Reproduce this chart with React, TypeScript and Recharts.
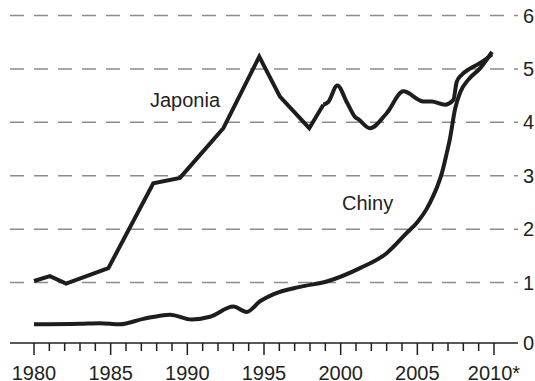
import { LineChart, Line, XAxis, YAxis, CartesianGrid } from "recharts";

// Japonia: straight section up to 1999, smoother wiggles after that
const japanEarlyYears = [1980, 1981.04, 1982.09, 1984.85, 1987.78, 1989.52, 1990.83, 1992.35, 1994.69, 1996.04, 1997.95, 1998.87];
const japanEarlyValues = [1.03, 1.12, 0.98, 1.27, 2.86, 2.96, 3.39, 3.89, 5.23, 4.48, 3.89, 4.33];

const japanLateYears = [1998.87, 1999.19, 1999.78, 2000.43, 2000.94, 2001.15, 2001.91, 2003.0, 2004.09, 2005.39, 2005.94, 2006.8, 2007.35, 2007.57, 2007.9, 2008.4, 2009.09, 2009.87];
const japanLateValues = [4.33, 4.38, 4.69, 4.36, 4.1, 4.06, 3.89, 4.17, 4.58, 4.39, 4.39, 4.33, 4.42, 4.76, 4.89, 5.0, 5.11, 5.27];

const chinaYears = [1980, 1983.0, 1984.3, 1985.6, 1987.13, 1988.87, 1990.28, 1991.48, 1993.0, 1993.87, 1994.74, 1995.6, 1997.35, 1999.09, 2001.26, 2003.0, 2004.31, 2005.0, 2005.61, 2006.0, 2006.3, 2006.6, 2006.9, 2007.13, 2007.46, 2007.79, 2008.33, 2009.09, 2009.87];
const chinaValues = [0.22, 0.23, 0.24, 0.22, 0.32, 0.4, 0.31, 0.36, 0.55, 0.45, 0.65, 0.78, 0.92, 1.02, 1.27, 1.55, 1.93, 2.13, 2.38, 2.6, 2.8, 3.05, 3.4, 3.7, 4.25, 4.56, 4.8, 5.01, 5.32];

const yearTicks = Array.from({ length: 31 }, (_, i) => 1980 + i);
const valueTicks = [0, 1, 2, 3, 4, 5, 6];
const gridValues = [1, 2, 3, 4, 5, 6];

const toPoints = (xs: number[], ys: number[]) => xs.map((year, i) => ({ year, value: ys[i] }));

const japanEarly = toPoints(japanEarlyYears, japanEarlyValues);
const japanLate = toPoints(japanLateYears, japanLateValues);
const china = toPoints(chinaYears, chinaValues);

const FONT = "'Liberation Sans', Arial, Helvetica, sans-serif";
const INK = "#231f20";
const LINE = "#1d1d1b";

const YearTick = ({ x, y, payload }: any) => {
    const yr = payload.value;
    const major = yr % 5 === 0;
    return (
        <g>
            <line x1={x} x2={x} y1={y} y2={y + (major ? 12 : 8)} stroke={INK} strokeWidth={1.5} />
            {major && (
                <text x={x} y={y + 37} textAnchor="middle" fontSize={20} fontFamily={FONT} fill={INK}>
                    {yr === 2010 ? "2010*" : yr}
                </text>
            )}
        </g>
    );
};

// the zero label sits on the axis line, below the padded zero of the scale
const ValueTick = ({ x, y, payload }: any) => {
    const shift = payload.value === 0 ? 7 : 0;
    return (
        <text x={x + 5} y={y + shift + 7} textAnchor="start" fontSize={20} fontFamily={FONT} fill={INK}>
            {payload.value}
        </text>
    );
};

export default function App() {
    return (
        <div style={{ position: "absolute", left: 0, top: 0, width: 535, height: 381, background: "#fff" }}>
            <LineChart width={535} height={381} margin={{ top: 15.5, right: 0, bottom: 0, left: 10 }}>
                <CartesianGrid
                    vertical={false}
                    horizontalValues={gridValues}
                    stroke="#8c8c8c"
                    strokeWidth={1.5}
                    strokeDasharray="14 10"
                />
                <XAxis
                    type="number"
                    dataKey="year"
                    domain={[1980, 2010]}
                    ticks={yearTicks}
                    interval={0}
                    padding={{ left: 24, right: 24 }}
                    height={38}
                    tickSize={0}
                    tickMargin={0}
                    tickLine={false}
                    axisLine={{ stroke: INK, strokeWidth: 1.5 }}
                    tick={<YearTick />}
                />
                <YAxis
                    type="number"
                    orientation="right"
                    domain={[0, 6]}
                    ticks={valueTicks}
                    interval={0}
                    padding={{ top: 0, bottom: 7 }}
                    width={17}
                    tickSize={0}
                    tickMargin={0}
                    tickLine={false}
                    axisLine={false}
                    tick={<ValueTick />}
                />
                <Line data={china} dataKey="value" type="monotone" stroke={LINE} strokeWidth={4} dot={false} isAnimationActive={false} />
                <Line data={japanEarly} dataKey="value" type="linear" stroke={LINE} strokeWidth={4} dot={false} isAnimationActive={false} />
                <Line data={japanLate} dataKey="value" type="monotone" stroke={LINE} strokeWidth={4} dot={false} isAnimationActive={false} />
            </LineChart>
            <svg width={535} height={381} style={{ position: "absolute", left: 0, top: 0, pointerEvents: "none" }}>
                <text x={150} y={106.5} fontSize={20} fontFamily={FONT} fill={INK}>Japonia</text>
                <text x={342} y={210} fontSize={20} fontFamily={FONT} fill={INK}>Chiny</text>
            </svg>
        </div>
    );
}
